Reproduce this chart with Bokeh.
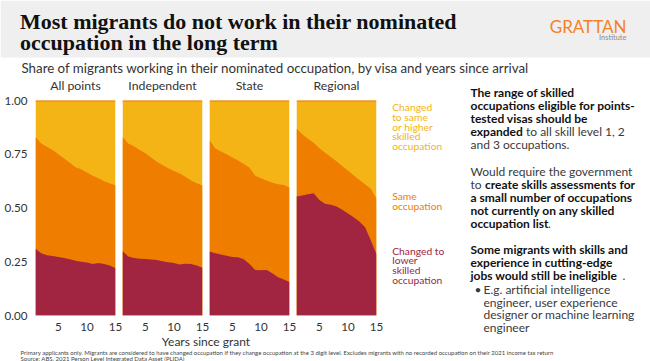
from bokeh.plotting import figure
from bokeh.layouts import column, row
from bokeh.models import Range1d, FixedTicker, NumeralTickFormatter
from bokeh.core.properties import value
from bokeh.embed import file_html
from bokeh.resources import INLINE

# ---------------- data ----------------
years = list(range(1, 16))
panel_names = ["All points", "Independent", "State", "Regional"]
series_names = ["Changed to lower skilled occupation", "Same occupation",
                "Changed to same or higher skilled occupation"]

all_lower = [0.31, 0.29, 0.28, 0.277, 0.272, 0.268, 0.262, 0.255, 0.25, 0.246, 0.24, 0.244, 0.24, 0.232, 0.22]
all_same = [0.52, 0.51, 0.505, 0.493, 0.478, 0.462, 0.448, 0.435, 0.43, 0.419, 0.41, 0.394, 0.385, 0.383, 0.385]
all_higher = [0.17, 0.20, 0.215, 0.23, 0.25, 0.27, 0.29, 0.31, 0.32, 0.335, 0.35, 0.362, 0.375, 0.385, 0.395]

ind_lower = [0.30, 0.275, 0.267, 0.264, 0.263, 0.261, 0.258, 0.252, 0.248, 0.244, 0.237, 0.241, 0.24, 0.232, 0.222]
ind_same = [0.53, 0.525, 0.52, 0.506, 0.492, 0.474, 0.457, 0.448, 0.437, 0.428, 0.423, 0.404, 0.388, 0.383, 0.383]
ind_higher = [0.17, 0.20, 0.213, 0.23, 0.245, 0.265, 0.285, 0.30, 0.315, 0.328, 0.34, 0.355, 0.372, 0.385, 0.395]

state_lower = [0.298, 0.29, 0.284, 0.278, 0.272, 0.271, 0.262, 0.24, 0.212, 0.21, 0.212, 0.196, 0.178, 0.167, 0.156]
state_same = [0.517, 0.487, 0.479, 0.472, 0.463, 0.45, 0.443, 0.447, 0.438, 0.428, 0.416, 0.422, 0.432, 0.44, 0.439]
state_higher = [0.185, 0.223, 0.237, 0.25, 0.265, 0.279, 0.295, 0.313, 0.35, 0.362, 0.372, 0.382, 0.39, 0.393, 0.405]

reg_lower = [0.553, 0.558, 0.564, 0.569, 0.537, 0.52, 0.515, 0.507, 0.492, 0.475, 0.457, 0.437, 0.41, 0.35, 0.285]
reg_same = [0.317, 0.285, 0.258, 0.234, 0.241, 0.237, 0.222, 0.211, 0.203, 0.198, 0.195, 0.193, 0.2, 0.24, 0.258]
reg_higher = [0.13, 0.157, 0.178, 0.197, 0.222, 0.243, 0.263, 0.282, 0.305, 0.327, 0.348, 0.37, 0.39, 0.41, 0.457]

y_ticks = [0, 0.25, 0.5, 0.75, 1.0]
x_ticks = [5, 10, 15]

title_lines = ["Most migrants do not work in their nominated", "occupation in the long term"]
subtitle = "Share of migrants working in their nominated occupation, by visa and years since arrival"
x_label = "Years since grant"
legend_lines = [["Changed", "to same", "or higher", "skilled", "occupation"],
                ["Same", "occupation"],
                ["Changed to", "lower", "skilled", "occupation"]]
footer_lines = ["Primary applicants only. Migrants are considered to have changed occupation if they change occupation at the 3 digit level. Excludes migrants with no recorded occupation on their 2021 income tax return",
                "Source: ABS, 2021 Person Level Integrated Data Asset (PLIDA)"]

RED = "#A12441"
ORANGE = "#EE7D00"
YELLOW = "#F4B416"
BAND = "#EFEFEF"
LOGO = "#F5821F"
SANS = "Lato"
SERIF = "Liberation Serif"
DARK = "#333333"

panels_data = [(all_lower, all_same, all_higher), (ind_lower, ind_same, ind_higher),
               (state_lower, state_same, state_higher), (reg_lower, reg_same, reg_higher)]

# ---------------- layout constants ----------------
W = 650
FRAME_W = 80
FRAME_H = 218
LEFT_AX = 35
GAP = 7
TOP_B = 8
BOT_B = 15
HEADER_H = 76
TITLES_H = 16
LABEL_H = 15
FOOTER_H = 13
PANEL_H = TOP_B + FRAME_H + BOT_B
LEFT_W = LEFT_AX + 4 * (FRAME_W + GAP)
RIGHT_W = W - LEFT_W
RIGHT_H = TITLES_H + PANEL_H + LABEL_H
TICK_FS = "11.6px"


def canvas(w, h):
    p = figure(width=w, height=h, x_range=Range1d(0, w), y_range=Range1d(h, 0),
               output_backend="svg", toolbar_location=None, min_border=0, title=None,
               x_axis_location=None, y_axis_location=None)
    p.grid.visible = False
    p.outline_line_color = None
    p.background_fill_color = "white"
    p.border_fill_color = "white"
    return p


def txt(p, x, y, s, size, color, style="normal", align="left", font=SANS):
    # y is the wanted baseline; compensate the renderer's downward shift of text
    k = 0.25 if font == SERIF else 0.35
    p.text(x=[x], y=[y - k * size], text=[s], text_font=value(font),
           text_font_size=f"{size}px", text_color=color, text_font_style=style,
           text_align=align, text_baseline="alphabetic")


# ---------------- header ----------------
header = canvas(W, HEADER_H)
header.quad(left=[0], right=[W], top=[0], bottom=[57], fill_color=BAND, line_color=None)
txt(header, 19.5, 26, title_lines[0], 22, "#111111", "bold", font=SERIF)
txt(header, 19.5, 47.5, title_lines[1], 22, "#111111", "bold", font=SERIF)
txt(header, 626, 31.5, "GRATTAN", 17, LOGO, align="right")
txt(header, 626, 40, "Institute", 7.5, "#8C8C8C", align="right")
txt(header, 21, 72.3, subtitle, 13.3, DARK)

# ---------------- panel titles ----------------
titles = canvas(LEFT_W, TITLES_H)
for i, name in enumerate(panel_names):
    cx = LEFT_AX + i * (FRAME_W + GAP) + FRAME_W / 2
    txt(titles, cx, 13.4, name, 12.3, DARK, align="center")

# ---------------- panels ----------------
panels = []
for i, (lower, same, higher) in enumerate(panels_data):
    first = i == 0
    p = figure(width=(LEFT_AX if first else 0) + FRAME_W + GAP, height=PANEL_H,
               x_range=Range1d(1, 15), y_range=Range1d(0, 1), title=None,
               output_backend="svg", toolbar_location=None,
               y_axis_location="left" if first else None,
               min_border_left=LEFT_AX if first else 0, min_border_right=GAP,
               min_border_top=TOP_B, min_border_bottom=BOT_B)
    mid = [a + b for a, b in zip(lower, same)]
    top = [a + b for a, b in zip(mid, higher)]
    base = [0] * len(years)
    p.varea(x=years, y1=base, y2=top, fill_color=YELLOW)
    p.varea(x=years, y1=base, y2=mid, fill_color=ORANGE)
    p.varea(x=years, y1=base, y2=lower, fill_color=RED)
    p.line(years, top, line_color=ORANGE, line_width=2)
    p.grid.visible = False
    p.outline_line_color = None
    p.border_fill_color = "white"
    ax = p.xaxis[0]
    ax.ticker = FixedTicker(ticks=x_ticks, minor_ticks=[])
    ax.axis_line_color = None
    ax.major_tick_line_color = None
    ax.minor_tick_line_color = None
    ax.major_label_standoff = 1
    ax.major_label_text_font = SANS
    ax.major_label_text_font_size = TICK_FS
    ax.major_label_text_color = DARK
    if first:
        ay = p.yaxis[0]
        ay.ticker = FixedTicker(ticks=y_ticks, minor_ticks=[])
        ay.formatter = NumeralTickFormatter(format="0.00")
        ay.axis_line_color = None
        ay.major_tick_line_color = None
        ay.minor_tick_line_color = None
        ay.major_label_standoff = 2
        ay.major_label_text_font = SANS
        ay.major_label_text_font_size = TICK_FS
        ay.major_label_text_color = DARK
    panels.append(p)

# shared x-axis title under the panels
xlab = canvas(LEFT_W, LABEL_H)
txt(xlab, LEFT_AX + (4 * FRAME_W + 3 * GAP) / 2, 12, x_label, 12, DARK, align="center")

# ---------------- right side: legend + commentary ----------------
right = canvas(RIGHT_W, RIGHT_H)
LX = 8.7
for lines, col, y0 in zip(legend_lines, [YELLOW, ORANGE, RED], [34.5, 123.5, 178]):
    for j, s in enumerate(lines):
        txt(right, LX, y0 + j * 9.6, s, 10.3, col)

PX = 87
FS = 12
BLACK = "#111111"
REG = "#3A3A3A"
# paragraph 1
txt(right, PX, 20.5, "The range of skilled", FS, BLACK, "bold")
txt(right, PX, 33.5, "occupations eligible for points-", FS, BLACK, "bold")
txt(right, PX, 46.5, "tested visas should be", FS, BLACK, "bold")
txt(right, PX, 59.5, "expanded", FS, BLACK, "bold")
txt(right, PX + 55.5, 59.5, "to all skill level 1, 2", FS, REG)
txt(right, PX, 72.5, "and 3 occupations.", FS, REG)
# paragraph 2
txt(right, PX, 99.5, "Would require the government", FS, REG)
txt(right, PX, 112.5, "to", FS, REG)
txt(right, PX + 14.5, 112.5, "create skills assessments for", FS, BLACK, "bold")
txt(right, PX, 125.5, "a small number of occupations", FS, BLACK, "bold")
txt(right, PX, 138.5, "not currently on any skilled", FS, BLACK, "bold")
txt(right, PX, 151.5, "occupation list", FS, BLACK, "bold")
txt(right, PX + 77.5, 151.5, ".", FS, REG)
# paragraph 3
txt(right, PX, 177.5, "Some migrants with skills and", FS, BLACK, "bold")
txt(right, PX, 190.5, "experience in cutting-edge", FS, BLACK, "bold")
txt(right, PX, 203.5, "jobs would still be ineligible", FS, BLACK, "bold")
txt(right, PX + 152, 203.5, ".", FS, REG)
txt(right, PX + 4, 217, "\u2022", FS, REG)
txt(right, PX + 13, 217, "E.g. artificial intelligence", FS, REG)
txt(right, PX + 13, 229.8, "engineer, user experience", FS, REG)
txt(right, PX + 13, 242.6, "designer or machine learning", FS, REG)
txt(right, PX + 13, 255.4, "engineer", FS, REG)

# ---------------- footer ----------------
footer = canvas(W, FOOTER_H)
txt(footer, 20, 6.1, footer_lines[0], 6.0, "#444444")
txt(footer, 20, 12.1, footer_lines[1], 6.0, "#444444")

layout = column(header,
                row(column(titles, row(*panels), xlab), right),
                footer)

open("out.html", "w").write(file_html(layout, INLINE))
